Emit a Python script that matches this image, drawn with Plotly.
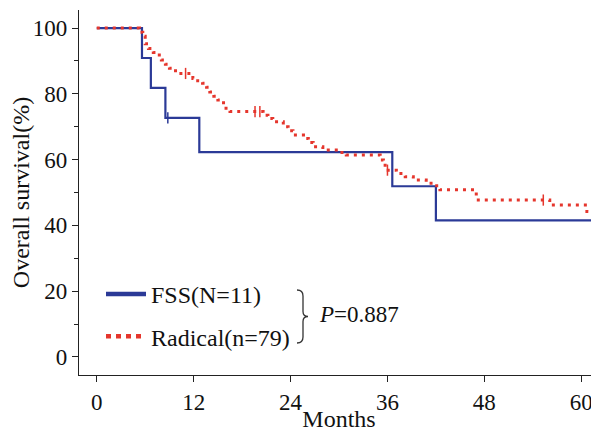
import plotly.graph_objects as go

# ---- data ----
fss_months = [0, 5.6, 6.7, 8.5, 12.7, 36.6, 42.0, 62.0]
fss_surv = [100, 90.9, 81.8, 72.7, 62.3, 51.9, 41.5, 41.5]
fss_cens_months = [8.8, 61.8]
fss_cens_surv = [72.7, 41.5]

rad_months = [0, 5.3, 5.7, 6.0, 6.4, 7.0, 7.4, 8.0, 8.5, 9.0, 9.5, 10.1, 11.9, 12.5,
              13.1, 13.6, 14.0, 14.5, 15.0, 15.7, 16.5, 20.6, 21.2, 21.8, 23.1, 23.7,
              24.3, 25.6, 26.2, 26.8, 28.0, 30.1, 30.9, 35.1, 35.5, 35.9, 37.1, 38.2,
              39.2, 40.8, 42.1, 42.5, 47.0, 56.1, 60.7, 61.9, 62.2]
rad_surv = [100, 98.7, 97.5, 95.2, 93.8, 92.6, 91.8, 90.3, 89.0, 87.8, 87.0, 86.2, 84.7, 84.0,
            83.2, 82.0, 80.6, 79.3, 78.1, 75.6, 74.6, 73.5, 72.5, 71.5, 70.0, 68.8,
            67.5, 66.4, 65.2, 63.9, 62.9, 62.2, 61.4, 59.9, 58.3, 56.8, 55.8, 54.8,
            53.8, 52.8, 51.3, 50.8, 47.7, 46.2, 44.2, 43.2, 43.2]
rad_cens_months = [11.0, 19.6, 20.2, 36.0, 55.3]
rad_cens_surv = [86.2, 74.6, 74.6, 56.8, 47.7]

x_ticks = [0, 12, 24, 36, 48, 60]
y_ticks = [0, 20, 40, 60, 80, 100]

BLUE = "#2b3a97"
RED = "#e5362d"
FONT = "Liberation Serif"

OFF = 8  # page body margin
W, H = 599 - OFF, 432 - OFF
ML, MR, MT, MB = 79 - OFF, 0, 10 - OFF, 57
PW, PH = W - ML - MR, H - MT - MB


def px(x):
    return (x - OFF - ML) / PW


def py(y):
    return (H - MB - (y - OFF)) / PH


fig = go.Figure()

fig.add_trace(go.Scatter(x=fss_months, y=fss_surv, mode="lines", line_shape="hv",
                         line=dict(color=BLUE, width=2.2), showlegend=False,
                         hoverinfo="skip"))
fig.add_trace(go.Scatter(x=fss_cens_months, y=fss_cens_surv, mode="markers",
                         marker=dict(symbol="line-ns-open", size=8, color=BLUE,
                                     line=dict(color=BLUE, width=1.5)),
                         showlegend=False, hoverinfo="skip"))
fig.add_trace(go.Scatter(x=rad_months, y=rad_surv, mode="lines", line_shape="hv",
                         line=dict(color=RED, width=3, dash="3px,5px"),
                         showlegend=False, hoverinfo="skip"))
fig.add_trace(go.Scatter(x=rad_cens_months, y=rad_cens_surv, mode="markers",
                         marker=dict(symbol="line-ns-open", size=8, color=RED,
                                     line=dict(color=RED, width=1.5)),
                         showlegend=False, hoverinfo="skip"))

# legend entries
fig.add_trace(go.Scatter(x=[None], y=[None], mode="lines", name="FSS(N=11)",
                         line=dict(color=BLUE, width=4.5), legendgroup="a"))
fig.add_trace(go.Scatter(x=[None], y=[None], mode="lines", name="Radical(n=79)",
                         line=dict(color=RED, width=4.5, dash="5px,5px"),
                         legendgroup="b"))

# brace
bx, by0, by1 = 297, 290, 343
bm = (by0 + by1) / 2
pts = f"M {px(bx)},{py(by0)} Q {px(bx+6)},{py(by0)} {px(bx+6)},{py(by0+6)} " \
      f"L {px(bx+6)},{py(bm-5)} Q {px(bx+6)},{py(bm)} {px(bx+11)},{py(bm)} " \
      f"Q {px(bx+6)},{py(bm)} {px(bx+6)},{py(bm+5)} " \
      f"L {px(bx+6)},{py(by1-6)} Q {px(bx+6)},{py(by1)} {px(bx)},{py(by1)}"
fig.add_shape(type="path", path=pts, xref="paper", yref="paper",
              line=dict(color="#333333", width=1.3))

fig.add_annotation(x=px(317), y=py(314), xref="paper", yref="paper",
                   text="<i>P</i>=0.887", showarrow=False, xanchor="left",
                   yanchor="middle", font=dict(family=FONT, size=23, color="#111111"))

fig.update_layout(
    width=W, height=H,
    margin=dict(l=ML, r=MR, t=MT, b=MB),
    plot_bgcolor="white", paper_bgcolor="white",
    font=dict(family=FONT, size=23, color="#111111"),
    legend=dict(x=px(101), y=py(272), xanchor="left", yanchor="top",
                bgcolor="rgba(0,0,0,0)", traceorder="grouped", tracegroupgap=8,
                itemwidth=40, font=dict(family=FONT, size=24, color="#111111")),
    xaxis=dict(range=[-2.2, 62.2], tickvals=x_ticks, ticks="outside", ticklen=6,
               tickwidth=1.3, tickcolor="#222222", showline=True, linecolor="#222222",
               linewidth=1.3, showgrid=False, zeroline=False, automargin=False,
               tickfont=dict(family=FONT, size=23, color="#111111"),
               title=dict(text="Months", standoff=0,
                          font=dict(family=FONT, size=24, color="#111111"))),
    yaxis=dict(range=[-5.5, 105.5], tickvals=y_ticks, ticks="outside", ticklen=6,
               tickwidth=1.3, tickcolor="#222222", showline=True, linecolor="#222222",
               linewidth=1.3, showgrid=False, zeroline=False, automargin=False,
               tickfont=dict(family=FONT, size=23, color="#111111"),
               minor=dict(tickvals=[10, 30, 50, 70, 90], ticks="outside", ticklen=4,
                          tickcolor="#222222", tickwidth=1.2),
               title=dict(text="Overall survival(%)", standoff=0,
                          font=dict(family=FONT, size=24, color="#111111"))),
)

fig.write_html("out.html")
